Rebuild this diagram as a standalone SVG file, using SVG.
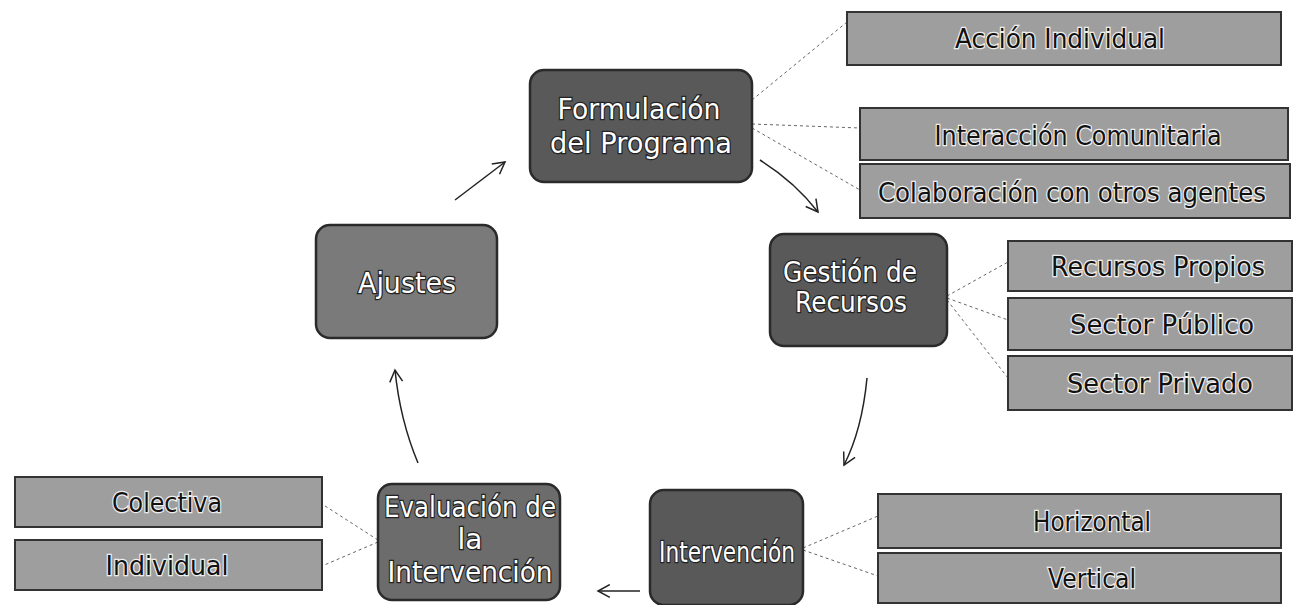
<svg xmlns="http://www.w3.org/2000/svg" width="1299" height="605" viewBox="0 0 1299 605">
<defs>
<marker id="ah" viewBox="0 0 14 14" refX="12" refY="7" markerWidth="15" markerHeight="15" markerUnits="userSpaceOnUse" orient="auto">
<path d="M1,1 L12,7 L1,13" fill="none" stroke="#222" stroke-width="1.4"/>
</marker>
</defs>
<style>
.node rect{stroke:#2a2a2a;stroke-width:2.5}
.dark{fill:#595959}
.mid{fill:#6c6c6c}
.light{fill:#7a7a7a}
.leaf rect{fill:#9e9e9e;stroke:#333;stroke-width:2}
.nt{font-family:"DejaVu Sans",Verdana,sans-serif;font-size:28px;fill:#fff;stroke:#222;stroke-width:2.5;paint-order:stroke;text-anchor:middle}
.lt{font-family:"DejaVu Sans",Verdana,sans-serif;font-size:26px;fill:#111;stroke:#eee;stroke-width:2.5;paint-order:stroke;text-anchor:middle}
.dash{fill:none;stroke:#666;stroke-width:1;stroke-dasharray:3 3}
.arr{fill:none;stroke:#222;stroke-width:1.5;marker-end:url(#ah)}
</style>
<rect width="1299" height="605" fill="#fff"/>
<g id="connectors">
<path class="dash" d="M752,100 L847,22"/>
<path class="dash" d="M752,124 L860,128"/>
<path class="dash" d="M752,128 L860,190"/>
<path class="dash" d="M947,296 L1008,262"/>
<path class="dash" d="M947,298 L1008,320"/>
<path class="dash" d="M947,300 L1008,378"/>
<path class="dash" d="M803,548 L878,516"/>
<path class="dash" d="M803,550 L878,576"/>
<path class="dash" d="M378,540 L322,504"/>
<path class="dash" d="M378,542 L322,566"/>
<path class="arr" d="M760,160 Q795,182 818,212"/>
<path class="arr" d="M867,378 Q862,430 844,465"/>
<path class="arr" d="M640,591 L598,591"/>
<path class="arr" d="M418,463 Q400,420 395,370"/>
<path class="arr" d="M455,200 L505,162"/>
</g>
<g id="n-formulacion" class="node"><rect class="dark" x="530" y="70" width="222" height="112" rx="14"/><text class="nt" x="639" y="119" textLength="163" lengthAdjust="spacingAndGlyphs">Formulación</text><text class="nt" x="641" y="153" textLength="182" lengthAdjust="spacingAndGlyphs">del Programa</text></g>
<g id="n-gestion" class="node"><rect class="dark" x="770" y="234" width="177" height="112" rx="14"/><text class="nt" x="850" y="282" textLength="134" lengthAdjust="spacingAndGlyphs">Gestión de</text><text class="nt" x="851" y="312" textLength="112" lengthAdjust="spacingAndGlyphs">Recursos</text></g>
<g id="n-intervencion" class="node"><rect class="dark" x="650" y="490" width="153" height="115" rx="14"/><text class="nt" x="727" y="562" textLength="136" lengthAdjust="spacingAndGlyphs">Intervención</text></g>
<g id="n-evaluacion" class="node"><rect class="mid" x="378" y="484" width="182" height="116" rx="14"/><text class="nt" x="470" y="517" textLength="172" lengthAdjust="spacingAndGlyphs">Evaluación de</text><text class="nt" x="470" y="549">la</text><text class="nt" x="470" y="582" textLength="165" lengthAdjust="spacingAndGlyphs">Intervención</text></g>
<g id="n-ajustes" class="node"><rect class="light" x="316" y="225" width="181" height="113" rx="14"/><text class="nt" x="407" y="293" textLength="98" lengthAdjust="spacingAndGlyphs">Ajustes</text></g>
<g id="l-accion" class="leaf"><rect x="847" y="12" width="434" height="53"/><text class="lt" x="1060" y="48" textLength="210" lengthAdjust="spacingAndGlyphs">Acción Individual</text></g>
<g id="l-interaccion" class="leaf"><rect x="860" y="108" width="428" height="52"/><text class="lt" x="1078" y="145" textLength="287" lengthAdjust="spacingAndGlyphs">Interacción Comunitaria</text></g>
<g id="l-colaboracion" class="leaf"><rect x="860" y="164" width="430" height="54"/><text class="lt" x="1072" y="202" textLength="388" lengthAdjust="spacingAndGlyphs">Colaboración con otros agentes</text></g>
<g id="l-propios" class="leaf"><rect x="1008" y="241" width="284" height="50"/><text class="lt" x="1158" y="276" textLength="214" lengthAdjust="spacingAndGlyphs">Recursos Propios</text></g>
<g id="l-publico" class="leaf"><rect x="1008" y="298" width="284" height="52"/><text class="lt" x="1162" y="334" textLength="184" lengthAdjust="spacingAndGlyphs">Sector Público</text></g>
<g id="l-privado" class="leaf"><rect x="1008" y="356" width="284" height="54"/><text class="lt" x="1160" y="393" textLength="186" lengthAdjust="spacingAndGlyphs">Sector Privado</text></g>
<g id="l-horizontal" class="leaf"><rect x="878" y="494" width="403" height="54"/><text class="lt" x="1092" y="531" textLength="118" lengthAdjust="spacingAndGlyphs">Horizontal</text></g>
<g id="l-vertical" class="leaf"><rect x="878" y="553" width="403" height="50"/><text class="lt" x="1092" y="588" textLength="88" lengthAdjust="spacingAndGlyphs">Vertical</text></g>
<g id="l-colectiva" class="leaf"><rect x="15" y="477" width="307" height="50"/><text class="lt" x="167" y="512" textLength="110" lengthAdjust="spacingAndGlyphs">Colectiva</text></g>
<g id="l-individual" class="leaf"><rect x="15" y="540" width="307" height="50"/><text class="lt" x="167" y="575" textLength="123" lengthAdjust="spacingAndGlyphs">Individual</text></g>
</svg>
